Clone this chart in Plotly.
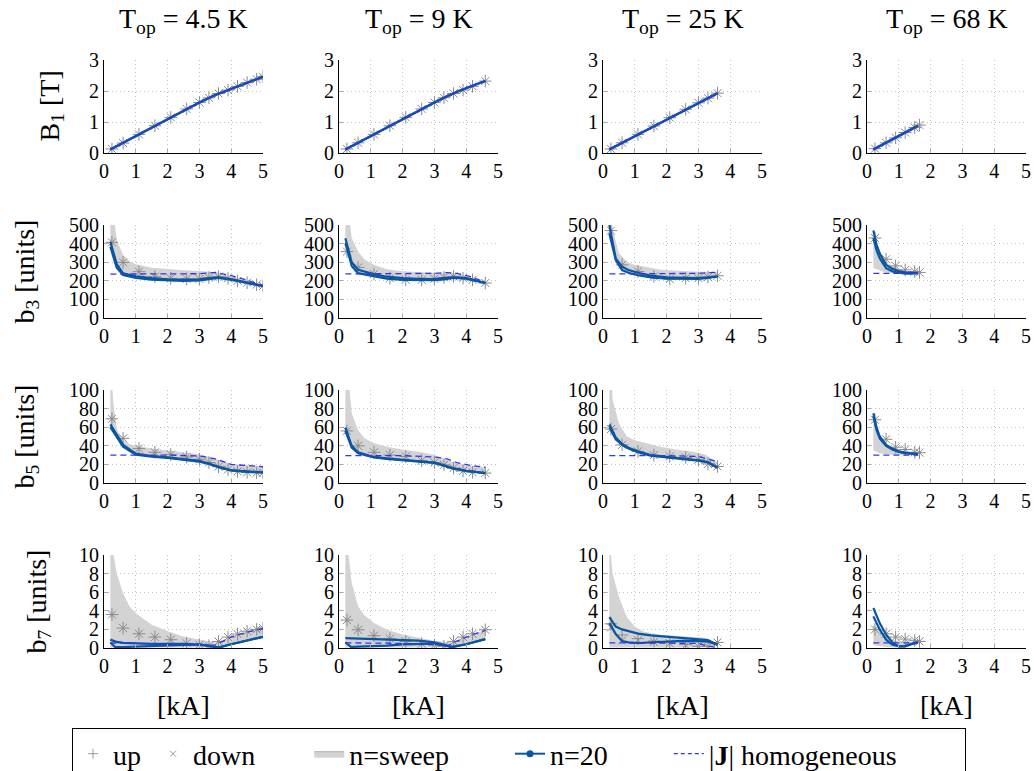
import plotly.graph_objects as go

FONT = "Liberation Serif"
TEMPS = ["4.5", "9", "25", "68"]
ROW_LABELS = ["B<sub>1</sub> [T]", "b<sub>3</sub> [units]", "b<sub>5</sub> [units]", "b<sub>7</sub> [units]"]
Y_MAX = [3, 500, 100, 10]
Y_DTICK = [1, 100, 20, 2]
X_TICKS = [0, 1, 2, 3, 4, 5]

# ---------------- column 1 : 4.5 K ----------------
I1 = [0.25, 0.6, 1.1, 1.6, 2.1, 2.6, 3.0, 3.3, 3.6, 3.9, 4.2, 4.5, 4.8, 5.0]
B1_MK1 = [0.13, 0.32, 0.6, 0.88, 1.15, 1.42, 1.63, 1.78, 1.92, 2.03, 2.15, 2.27, 2.38, 2.46]
B3_MK1 = [407, 299, 249, 222, 213, 210, 210, 217, 222, 213, 200, 190, 179, 172]
B5_MK1 = [69, 48, 37, 33, 30.5, 28, 25.5, 22, 17.5, 14.5, 12.5, 11.5, 11, 11]
B7_UP1 = [3.6, 2.14, 1.53, 1.17, 0.89, 0.5, 0.35, 0.25, 0.7, 1.17, 1.5, 1.8, 2.0, 2.14]
B7_DN1 = [3.6, 2.14, 1.53, 1.17, 0.89, 0.5, 0.35, 0.25, 0.7, 1.17, 1.5, 1.8, 2.0, 2.14]

LX1 = [0.2, 0.4, 0.6, 1.0, 1.5, 2.0, 2.5, 3.0, 3.3, 3.6, 4.0, 4.5, 5.0]
B3_A1 = [410, 290, 240, 224, 214, 208, 207, 208, 214, 219, 208, 190, 172]
B3_B1 = [383, 270, 231, 215, 206, 202, 200, 202, 208, 216, 206, 189, 172]
B5_A1 = [63, 52, 41, 31.5, 29, 27.6, 25.7, 23.8, 21, 17.5, 13.7, 12.3, 11.5]
B5_B1 = [60, 50, 39, 30.5, 28.3, 27, 25, 23, 20.5, 17, 13.5, 12, 11.5]
B7_A1 = [0.9, 0.65, 0.55, 0.48, 0.45, 0.45, 0.45, 0.35, 0.2, 0.05, 0.4, 0.8, 1.2]
LX1_B7B = [0.2, 0.35, 0.6, 1.0, 1.5, 2.0, 2.5, 3.0, 3.3, 3.6, 4.0, 4.5, 5.0]
B7_B1 = [0.6, 0.1, 0.1, 0.15, 0.2, 0.3, 0.4, 0.4, 0.25, 0.05, 0.4, 0.8, 1.2]

DX1 = [0.2, 1, 2, 3, 3.5, 4, 4.5, 5]
B1_J1 = [0.11, 0.55, 1.1, 1.63, 1.87, 2.07, 2.27, 2.46]
B3_J1 = [236, 236, 236, 238, 245, 228, 203, 175]
B5_J1 = [30, 30, 30, 29, 26, 20, 18.5, 17.5]
B7_J1 = [0.55, 0.5, 0.45, 0.35, 0.3, 1.2, 1.7, 2.1]

BX1 = [0.2, 0.3, 0.4, 0.6, 0.8, 1.0, 1.5, 2.0, 2.5, 3.0, 3.5, 4.0, 4.5, 5.0]
B3_HI1 = [900, 560, 420, 340, 305, 289, 270, 262, 257, 253, 246, 222, 200, 177]
B3_LO1 = [383, 320, 270, 231, 220, 215, 206, 202, 200, 202, 212, 206, 189, 172]
B5_HI1 = [130, 85, 58, 46, 42, 40, 37, 35, 33, 31, 26, 20.5, 19, 18]
B5_LO1 = [60, 55, 50, 39, 33, 30.5, 28.3, 27, 25.5, 23, 18, 13.5, 12, 11.5]
B7_HI1 = [14, 10, 8.0, 5.9, 4.5, 3.75, 2.5, 1.8, 1.25, 0.9, 0.6, 1.2, 1.8, 2.3]
B7_LO1 = [0.05, 0.05, 0.05, 0.05, 0.05, 0.05, 0.05, 0.05, 0.05, 0.05, 0.05, 0.4, 0.8, 1.2]

# ---------------- column 2 : 9 K ----------------
I2 = [0.25, 0.6, 1.1, 1.6, 2.1, 2.6, 3.0, 3.3, 3.6, 3.9, 4.2, 4.6]
B1_MK2 = [0.13, 0.33, 0.6, 0.88, 1.15, 1.42, 1.63, 1.78, 1.92, 2.03, 2.15, 2.32]
B3_MK2 = [357, 271, 236, 214, 205, 205, 211, 218, 223, 214, 205, 188]
B5_MK2 = [56, 40, 33, 30, 28.5, 24, 22, 19.5, 16, 13, 11.5, 10.7]
B7_UP2 = [3.0, 1.96, 1.32, 1.0, 0.71, 0.46, 0.29, 0.18, 0.71, 1.17, 1.53, 1.96]
B7_DN2 = [3.0, 1.96, 1.32, 1.0, 0.71, 0.46, 0.29, 0.18, 0.71, 1.17, 1.53, 1.96]

LX2 = [0.2, 0.4, 0.6, 1.1, 1.5, 2.0, 2.5, 3.0, 3.3, 3.6, 4.0, 4.6]
B3_A2 = [429, 300, 259, 236, 222, 214, 211, 209, 214, 218, 214, 188]
B3_B2 = [402, 280, 241, 223, 212, 205, 203, 203, 208, 215, 212, 188]
B5_A2 = [59.6, 40, 33, 28, 26.5, 25, 23.5, 22, 19, 15.7, 13.2, 10.7]
B5_B2 = [56, 38, 32, 27.5, 26, 24.5, 23, 21.5, 18.5, 15.5, 13, 10.7]
B7_A2 = [1.07, 1.05, 1.0, 0.96, 0.93, 0.9, 0.8, 0.6, 0.35, 0.11, 0.4, 0.96]
LX2_B7B = [0.2, 0.38, 0.6, 1.1, 1.5, 2.0, 2.5, 3.0, 3.3, 3.5, 4.0, 4.6]
B7_B2 = [0.6, 0.11, 0.15, 0.2, 0.25, 0.4, 0.45, 0.46, 0.3, 0.11, 0.4, 0.96]

DX2 = [0.2, 1, 2, 3, 3.4, 3.7, 4.2, 4.6]
B1_J2 = [0.11, 0.55, 1.1, 1.63, 1.83, 1.97, 2.17, 2.32]
B3_J2 = [237, 237, 237, 240, 244, 240, 220, 190]
B5_J2 = [29.5, 29.5, 29.5, 28, 26, 22, 18.5, 17]
B7_J2 = [0.55, 0.55, 0.5, 0.4, 0.2, 0.75, 1.45, 1.9]

BX2 = [0.2, 0.3, 0.4, 0.6, 0.8, 1.1, 1.5, 2.0, 2.6, 3.0, 3.6, 4.0, 4.6]
B3_HI2 = [900, 560, 430, 357, 315, 286, 262, 252, 246, 244, 241, 225, 196]
B3_LO2 = [402, 330, 280, 241, 230, 223, 212, 205, 203, 203, 215, 212, 188]
B5_HI2 = [150, 110, 75, 57, 48, 43, 39, 36, 33, 30, 22, 19, 17]
B5_LO2 = [56, 48, 38, 32, 30, 27.5, 26, 24.5, 23, 21.5, 15.5, 13, 10.7]
B7_HI2 = [12, 10, 7, 4.5, 3.5, 2.7, 2.0, 1.45, 1.05, 0.75, 0.6, 1.17, 2.0]
B7_LO2 = [0.05, 0.05, 0.05, 0.05, 0.05, 0.05, 0.05, 0.05, 0.05, 0.05, 0.1, 0.5, 0.96]

# ---------------- column 3 : 25 K ----------------
I3 = [0.25, 0.6, 1.1, 1.6, 2.1, 2.6, 3.0, 3.3, 3.6]
B1_MK3 = [0.13, 0.33, 0.6, 0.87, 1.14, 1.41, 1.62, 1.77, 1.93]
B3_MK3 = [470, 286, 250, 223, 209, 214, 214, 220, 227]
B5_MK3 = [58, 41, 34, 30, 28.5, 27.5, 25, 20.5, 17.8]
B7_UP3 = [2.6, 1.4, 1.0, 0.75, 0.55, 0.36, 0.18, 0.18, 0.6]
B7_DN3 = [2.2, 0.8, 0.85, 0.65, 0.5, 0.3, 0.15, 0.15, 0.6]

LX3 = [0.2, 0.4, 0.6, 0.8, 1.1, 1.5, 2.0, 2.5, 3.0, 3.3, 3.6]
B3_A3 = [500, 321, 275, 258, 243, 228, 219, 215, 215, 218, 223]
B3_B3 = [455, 312, 258, 243, 230, 218, 211, 209, 210, 215, 223]
B5_A3 = [63, 49, 42, 38, 34, 30, 28, 26.5, 24.5, 22.5, 16.5]
B5_B3 = [60, 47, 41, 37, 33, 29.5, 27.5, 26, 24, 22, 16.5]
B7_A3 = [3.32, 2.3, 2.0, 1.8, 1.55, 1.35, 1.22, 1.12, 1.0, 0.85, 0.36]
LX3_B7B = [0.2, 0.4, 0.6, 0.8, 1.1, 1.5, 2.0, 2.5, 3.0, 3.3, 3.6]
B7_B3 = [2.68, 1.5, 0.75, 0.6, 0.54, 0.62, 0.72, 0.76, 0.74, 0.68, 0.36]

DX3 = [0.2, 1, 2, 3, 3.3, 3.6]
B1_J3 = [0.11, 0.54, 1.08, 1.62, 1.77, 1.93]
B3_J3 = [237, 237, 238, 240, 243, 246]
B5_J3 = [29.5, 29.5, 29.5, 28.5, 26, 23]
B7_J3 = [0.55, 0.55, 0.55, 0.5, 0.2, 0.05]

BX3 = [0.2, 0.3, 0.5, 0.75, 1.0, 1.3, 1.8, 2.3, 2.8, 3.2, 3.6]
B3_HI3 = [900, 480, 348, 303, 285, 277, 259, 253, 250, 248, 246]
B3_LO3 = [455, 360, 290, 250, 235, 225, 215, 210, 209, 212, 223]
B5_HI3 = [160, 90, 64, 50, 46, 43.5, 39, 36, 34, 31, 22]
B5_LO3 = [60, 52, 44, 38, 34.5, 31, 28.5, 26.5, 25, 23, 16.5]
B7_HI3 = [12, 8, 5.5, 3.3, 2.3, 1.75, 1.43, 1.33, 1.25, 1.1, 0.46]
B7_LO3 = [0.05, 0.05, 0.05, 0.05, 0.05, 0.05, 0.05, 0.05, 0.05, 0.05, 0.3]

# ---------------- column 4 : 68 K ----------------
I4 = [0.25, 0.6, 0.9, 1.2, 1.5, 1.65]
B1_MK4 = [0.14, 0.33, 0.49, 0.66, 0.82, 0.9]
B3_MK4 = [430, 316, 280, 259, 250, 245]
B5_MK4 = [68, 47, 38.5, 36, 33, 32.6]
B7_UP4 = [2.0, 1.53, 1.17, 0.96, 0.82, 0.71]
B7_DN4 = [2.0, 1.53, 1.17, 0.96, 0.82, 0.71]

LX4 = [0.2, 0.3, 0.4, 0.6, 0.8, 1.0, 1.2, 1.4, 1.6]
B3_A4 = [470, 395, 348, 286, 264, 252, 245, 242, 241]
B3_B4 = [430, 365, 321, 268, 250, 242, 238, 239, 241]
B5_A4 = [75, 60, 50, 41, 37, 34, 32.6, 31.5, 31]
B5_B4 = [72, 57, 48, 40, 36, 33.5, 32, 31.2, 31]
B7_A4 = [4.3, 3.4, 2.68, 1.43, 0.6, 0.15, 0.2, 0.45, 0.6]
LX4_B7B = [0.2, 0.3, 0.4, 0.6, 0.8, 1.0, 1.2, 1.4, 1.6]
B7_B4 = [3.4, 2.6, 2.0, 0.89, 0.35, 0.2, 0.18, 0.4, 0.6]

DX4 = [0.2, 0.8, 1.6]
B1_J4 = [0.11, 0.44, 0.88]
B3_J4 = [240, 240, 240]
B5_J4 = [30, 30, 30]
B7_J4 = [0.55, 0.55, 0.55]

BX4 = [0.2, 0.4, 0.6, 0.9, 1.2, 1.6]
B3_HI4 = [480, 350, 300, 270, 255, 245]
B3_LO4 = [270, 255, 245, 240, 238, 238]
B5_HI4 = [70, 52, 42, 36, 33, 31]
B5_LO4 = [35, 32, 31, 30, 30, 30]
B7_HI4 = [2.5, 1.8, 1.2, 0.8, 0.7, 0.65]
B7_LO4 = [0.3, 0.2, 0.1, 0.05, 0.3, 0.5]

# --------------- assemble per panel ----------------
COLS = [
    dict(I=I1, mk=[B1_MK1, B3_MK1, B5_MK1, B7_UP1], dn=[B1_MK1, B3_MK1, B5_MK1, B7_DN1],
         la=[(DX1, B1_J1), (LX1, B3_A1), (LX1, B5_A1), (LX1, B7_A1)],
         lb=[(DX1, B1_J1), (LX1, B3_B1), (LX1, B5_B1), (LX1_B7B, B7_B1)],
         dx=DX1, j=[B1_J1, B3_J1, B5_J1, B7_J1],
         bx=BX1, hi=[None, B3_HI1, B5_HI1, B7_HI1], lo=[None, B3_LO1, B5_LO1, B7_LO1]),
    dict(I=I2, mk=[B1_MK2, B3_MK2, B5_MK2, B7_UP2], dn=[B1_MK2, B3_MK2, B5_MK2, B7_DN2],
         la=[(DX2, B1_J2), (LX2, B3_A2), (LX2, B5_A2), (LX2, B7_A2)],
         lb=[(DX2, B1_J2), (LX2, B3_B2), (LX2, B5_B2), (LX2_B7B, B7_B2)],
         dx=DX2, j=[B1_J2, B3_J2, B5_J2, B7_J2],
         bx=BX2, hi=[None, B3_HI2, B5_HI2, B7_HI2], lo=[None, B3_LO2, B5_LO2, B7_LO2]),
    dict(I=I3, mk=[B1_MK3, B3_MK3, B5_MK3, B7_UP3], dn=[B1_MK3, B3_MK3, B5_MK3, B7_DN3],
         la=[(DX3, B1_J3), (LX3, B3_A3), (LX3, B5_A3), (LX3, B7_A3)],
         lb=[(DX3, B1_J3), (LX3, B3_B3), (LX3, B5_B3), (LX3_B7B, B7_B3)],
         dx=DX3, j=[B1_J3, B3_J3, B5_J3, B7_J3],
         bx=BX3, hi=[None, B3_HI3, B5_HI3, B7_HI3], lo=[None, B3_LO3, B5_LO3, B7_LO3]),
    dict(I=I4, mk=[B1_MK4, B3_MK4, B5_MK4, B7_UP4], dn=[B1_MK4, B3_MK4, B5_MK4, B7_DN4],
         la=[(DX4, B1_J4), (LX4, B3_A4), (LX4, B5_A4), (LX4, B7_A4)],
         lb=[(DX4, B1_J4), (LX4, B3_B4), (LX4, B5_B4), (LX4_B7B, B7_B4)],
         dx=DX4, j=[B1_J4, B3_J4, B5_J4, B7_J4],
         bx=BX4, hi=[None, B3_HI4, B5_HI4, B7_HI4], lo=[None, B3_LO4, B5_LO4, B7_LO4]),
]

W, H = 1034, 771
COL_PX = [(104, 263), (339, 498), (603, 762), (867, 1026)]
ROW_PX = [(60, 153), (225, 318), (390, 483), (555, 648)]

BLUE = "#0a56a3"
JBLUE = "#3434f0"
GRAYMK = "#8a8a8a"
BAND = "#d3d3d3"
NB = "\u00a0"

fig = go.Figure()
layout = {}
for r in range(4):
    for c in range(4):
        idx = r * 4 + c + 1
        sfx = "" if idx == 1 else str(idx)
        xref, yref = "x" + sfx, "y" + sfx
        x0, x1 = COL_PX[c]
        y0, y1 = ROW_PX[r]
        common = dict(showline=True, linecolor="black", linewidth=1, mirror=False,
                      showgrid=True, gridcolor="#c0c0c0", griddash="1px,3px", gridwidth=1,
                      zeroline=False, ticks="inside", ticklen=4, tickcolor="#aaaaaa",
                      automargin=False,
                      tickfont=dict(family=FONT, size=20, color="black"))
        layout["xaxis" + sfx] = dict(domain=[x0 / W, x1 / W], anchor=yref, range=[0, 5],
                                     tickvals=X_TICKS, **common)
        layout["yaxis" + sfx] = dict(domain=[1 - y1 / H, 1 - y0 / H], anchor=xref,
                                     range=[0, Y_MAX[r]], dtick=Y_DTICK[r], tick0=0, **common)
        d = COLS[c]
        if d["hi"][r] is not None:
            bx = d["bx"]
            fig.add_trace(go.Scatter(x=bx + bx[::-1], y=d["hi"][r] + d["lo"][r][::-1],
                                     fill="toself", fillcolor=BAND, mode="lines",
                                     line=dict(width=0, color=BAND), hoverinfo="skip",
                                     xaxis=xref, yaxis=yref, showlegend=False))
        fig.add_trace(go.Scatter(x=d["I"], y=d["mk"][r], mode="markers",
                                 marker=dict(symbol="cross-thin", size=9,
                                             line=dict(width=1, color=GRAYMK)),
                                 xaxis=xref, yaxis=yref, showlegend=False))
        fig.add_trace(go.Scatter(x=d["I"], y=d["dn"][r], mode="markers",
                                 marker=dict(symbol="x-thin", size=8,
                                             line=dict(width=1, color=GRAYMK)),
                                 xaxis=xref, yaxis=yref, showlegend=False))
        for lx, ly in (d["la"][r], d["lb"][r]):
            fig.add_trace(go.Scatter(x=lx, y=ly, mode="lines", line=dict(color=BLUE, width=2.2),
                                     xaxis=xref, yaxis=yref, showlegend=False))
        fig.add_trace(go.Scatter(x=d["dx"], y=d["j"][r], mode="lines",
                                 line=dict(color=JBLUE, width=1.3, dash="6px,4px"),
                                 xaxis=xref, yaxis=yref, showlegend=False))

# legend entries
fig.add_trace(go.Scatter(x=[None], y=[None], mode="markers", name="up" + NB * 1,
                         marker=dict(symbol="cross-thin", size=7, line=dict(width=1, color="#999999"))))
fig.add_trace(go.Scatter(x=[None], y=[None], mode="markers", name="down" + NB * 7,
                         marker=dict(symbol="x-thin", size=6, line=dict(width=1, color="#999999"))))
fig.add_trace(go.Scatter(x=[None], y=[None], mode="lines", name="n=sweep" + NB * 8, fill="toself",
                         fillcolor=BAND, line=dict(width=1, color="#b0b0b0")))
fig.add_trace(go.Scatter(x=[None], y=[None], mode="lines+markers", name="n=20" + NB * 8,
                         line=dict(color=BLUE, width=2), marker=dict(size=7, color=BLUE)))
fig.add_trace(go.Scatter(x=[None], y=[None], mode="lines", name="|<b>J</b>| homogeneous" + NB * 9,
                         line=dict(color=JBLUE, width=1.3, dash="4px,3px")))

ann = []
for c in range(4):
    cx = (COL_PX[c][0] + COL_PX[c][1]) / 2 / W
    ann.append(dict(text="T<sub>op</sub> = " + TEMPS[c] + " K", x=cx, y=1 - 20 / H,
                    xref="paper", yref="paper", showarrow=False, xanchor="center", yanchor="middle",
                    font=dict(family=FONT, size=28, color="black")))
    ann.append(dict(text="[kA]", x=cx, y=1 - 705 / H, xref="paper", yref="paper",
                    showarrow=False, xanchor="center", yanchor="middle",
                    font=dict(family=FONT, size=28, color="black")))
LABEL_X = [51, 26, 26, 38]
for r in range(4):
    cy = 1 - (ROW_PX[r][0] + ROW_PX[r][1]) / 2 / H
    ann.append(dict(text=ROW_LABELS[r], x=LABEL_X[r] / W, y=cy, xref="paper", yref="paper",
                    textangle=-90, showarrow=False, xanchor="center", yanchor="middle",
                    font=dict(family=FONT, size=28, color="black")))

fig.update_layout(**layout)
fig.update_layout(
    width=W, height=H, margin=dict(l=0, r=0, t=0, b=0, autoexpand=False),
    paper_bgcolor="white", plot_bgcolor="white",
    annotations=ann,
    legend=dict(orientation="h", x=72 / W, y=1 - 728 / H, xanchor="left", yanchor="top",
                bordercolor="black", borderwidth=1, bgcolor="white", itemwidth=30,
                font=dict(family=FONT, size=28, color="black")),
)
fig.write_html("out.html", config={"displayModeBar": False},
               post_script="document.body.style.margin='0';")
